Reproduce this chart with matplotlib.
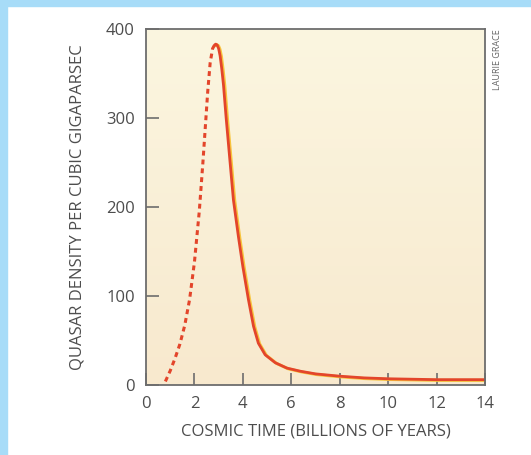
import matplotlib
matplotlib.use("Agg")
import matplotlib.pyplot as plt
import matplotlib.transforms as mtransforms
from matplotlib.patches import Rectangle
import numpy as np

# ---- data ----
early_x = [0.8, 1.0, 1.2, 1.4, 1.6, 1.8, 2.0, 2.2, 2.35, 2.45, 2.55, 2.65, 2.75, 2.83]
early_y = [4, 16, 30, 46, 67, 96, 138, 195, 250, 290, 330, 362, 378, 382]

late_x = [2.83, 2.88, 2.94, 3.0, 3.06, 3.13, 3.2, 3.31, 3.45, 3.61, 3.82, 4.0,
          4.23, 4.44, 4.64, 4.92, 5.34, 5.82, 6.37, 7.0, 8.0, 9.0, 10.0, 12.0, 14.0]
late_y = [382, 383, 382, 378, 370, 355, 337, 300, 257, 208, 166, 133,
          96, 66, 47, 34, 25, 19, 15.5, 12.5, 9.9, 8, 7, 6, 6]

x_ticks = [0, 2, 4, 6, 8, 10, 12, 14]
y_ticks = [0, 100, 200, 300, 400]
x_label = "COSMIC TIME (BILLIONS OF YEARS)"
y_label = "QUASAR DENSITY PER CUBIC GIGAPARSEC"
credit = "LAURIE GRACE"

# ---- style ----
plt.rcParams['font.family'] = ['Open Sans', 'DejaVu Sans']
W, H = 531, 455
fig = plt.figure(figsize=(W / 100, H / 100), dpi=100)
fig.patch.set_facecolor('white')

# blue frame (top and left)
blue = '#a7dcf8'
fig.add_artist(Rectangle((0, 1 - 6 / H), 1, 6 / H, transform=fig.transFigure,
                         color=blue, zorder=0))
fig.add_artist(Rectangle((0, 0), 7 / W, 1, transform=fig.transFigure,
                         color=blue, zorder=0))

left, right, top, bottom = 146, 485, 29, 385
ax = fig.add_axes([left / W, 1 - bottom / H, (right - left) / W, (bottom - top) / H])
ax.set_xlim(0, 14)
ax.set_ylim(0, 400)

# cream background with subtle vertical gradient
c_top = np.array(matplotlib.colors.to_rgb('#fbf6e0'))
c_bot = np.array(matplotlib.colors.to_rgb('#f8e9ce'))
t = np.linspace(0, 1, 256)[:, None]
grad = (c_top[None, :] * (1 - t) + c_bot[None, :] * t)[:, None, :]
ax.imshow(grad, extent=[0, 14, 0, 400], aspect='auto', zorder=0, origin='upper')

red = '#e3452b'
yellow = '#f7c43c'
shift = mtransforms.offset_copy(ax.transData, fig=fig, x=1.3, y=-0.7, units='dots')

ax.plot(late_x, late_y, color=yellow, lw=2.2, transform=shift, zorder=2,
        solid_capstyle='round', solid_joinstyle='round')
ax.plot(late_x, late_y, color=red, lw=2.0, zorder=3,
        solid_capstyle='round', solid_joinstyle='round')
ax.plot(early_x, early_y, color=red, lw=2.2, zorder=3, linestyle=(0, (1.6, 1.3)),
        dash_capstyle='butt')

spine_c = '#6d6d6d'
for s in ax.spines.values():
    s.set_color(spine_c)
    s.set_linewidth(1.3)
    s.set_zorder(4)

text_c = '#4d4d4d'
ax.set_xticks(x_ticks)
ax.set_yticks(y_ticks)
ax.set_xticklabels([str(v) for v in x_ticks])
ax.set_yticklabels([str(v) for v in y_ticks])
ax.tick_params(axis='both', direction='in', length=9, width=1.2, color=spine_c,
               labelsize=12, labelcolor=text_c, pad=8)

ax.set_xlabel(x_label, fontsize=12, color=text_c, labelpad=8.5)
ax.set_ylabel(y_label, fontsize=12, color=text_c, labelpad=15)

fig.text(497 / W, 1 - 29 / H, credit, rotation=90, fontsize=6.5, color='#666666',
         ha='center', va='top')

fig.savefig('out.png', dpi=100)
